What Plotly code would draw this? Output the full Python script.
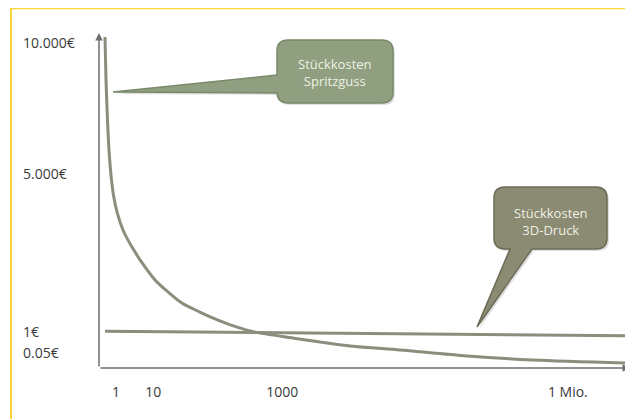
import plotly.graph_objects as go

# ---------------- data (abstract sketch units: x 0..100, y 0..100) ----------------
spritzguss_x = [1.13, 1.32, 1.60, 1.88, 2.26, 2.73, 3.39, 4.52, 6.21, 8.29, 10.55,
                13.0, 15.6, 19.0, 22.4, 26.0, 29.4, 36.3, 47.3, 56.7, 69.3, 81.7, 99.6]
spritzguss_y = [98.8, 86.0, 74.0, 65.1, 57.6, 51.6, 46.6, 41.2, 36.1, 31.0, 26.3,
                22.7, 19.4, 16.7, 14.3, 12.2, 10.7, 9.0, 6.6, 5.4, 3.6, 2.4, 1.5]
druck_x = [1.13, 37.9, 99.6]
druck_y = [11.0, 10.4, 9.6]

xtick_vals = [3.2, 10.2, 34.5, 88.3]
xtick_text = ["1", "10", "1000", "1 Mio."]
ytick_vals = [97.3, 58.2, 11.0, 4.5]
ytick_text = ["10.000€", "5.000€", "1€", "0.05€"]

callout_text = ["Stückkosten<br>Spritzguss", "Stückkosten<br>3D-Druck"]

# ---------------- layout geometry (screen pixels; page body adds 8px offset) ----------------
OFF = 8
SW, SH = 633, 419
PL, PR, PT, PB = 99, 630, 33, 368          # plot area in screen px
W, H = SW - OFF, SH - OFF


def X(px):
    return (px - PL) / (PR - PL) * 100


def Y(py):
    return (PB - py) / (PB - PT) * 100


def PX(px):
    return (px - PL) / (PR - PL)


def PY(py):
    return (PB - py) / (PB - PT)


def bubble(x0, x1, y0, y1, r, tail_side, a, b, tip, d=0):
    def p(px, py):
        return f"{X(px + d):.3f},{Y(py + d):.3f}"
    s = f"M {p(x0 + r, y0)} L {p(x1 - r, y0)} Q {p(x1, y0)} {p(x1, y0 + r)} "
    s += f"L {p(x1, y1 - r)} Q {p(x1, y1)} {p(x1 - r, y1)} "
    if tail_side == "bottom":
        s += f"L {p(a, y1)} L {p(*tip)} L {p(b, y1)} "
    s += f"L {p(x0 + r, y1)} Q {p(x0, y1)} {p(x0, y1 - r)} "
    if tail_side == "left":
        s += f"L {p(x0, b)} L {p(*tip)} L {p(x0, a)} "
    s += f"L {p(x0, y0 + r)} Q {p(x0, y0)} {p(x0 + r, y0)} Z"
    return s


line_col = "#8b8e7c"
fig = go.Figure()
fig.add_trace(go.Scatter(x=spritzguss_x, y=spritzguss_y, mode="lines",
                         line=dict(color=line_col, width=3, shape="spline", smoothing=0.8),
                         hoverinfo="skip", showlegend=False))
fig.add_trace(go.Scatter(x=druck_x, y=druck_y, mode="lines",
                         line=dict(color=line_col, width=3),
                         hoverinfo="skip", showlegend=False))

shapes = []
# yellow frame (top + left)
shapes.append(dict(type="line", xref="paper", yref="paper", x0=PX(11), x1=PX(SW + 5),
                   y0=PY(8), y1=PY(8), line=dict(color="#fdd436", width=2.5)))
shapes.append(dict(type="line", xref="paper", yref="paper", x0=PX(11), x1=PX(11),
                   y0=PY(8), y1=PY(SH + 5), line=dict(color="#fdd436", width=2)))

# callout bubbles (soft shadow + body)
geo1 = (277, 393, 40, 103, 11, "left", 75, 93, (113, 92))
geo2 = (494, 607, 187, 249, 11, "bottom", 532, 510, (477, 327))
for geo, fill, edge in [(geo1, "#8f9f80", "#7a8a6b"), (geo2, "#8b8a72", "#6c6b56")]:
    shapes.append(dict(type="path", xref="x", yref="y", path=bubble(*geo, d=2),
                       fillcolor="rgba(0,0,0,0.13)", line=dict(width=0), layer="above"))
    shapes.append(dict(type="path", xref="x", yref="y", path=bubble(*geo),
                       fillcolor=fill, line=dict(color=edge, width=1.5), layer="above"))

annotations = []
# axes with arrows
annotations.append(dict(x=0, y=100, ax=0, ay=0, xref="x", yref="y", axref="x", ayref="y",
                        showarrow=True, arrowhead=2, arrowsize=1, arrowwidth=1.5,
                        arrowcolor="#6e6e6e", text=""))
annotations.append(dict(x=100, y=0, ax=0, ay=0, xref="x", yref="y", axref="x", ayref="y",
                        showarrow=True, arrowhead=2, arrowsize=1, arrowwidth=1.5,
                        arrowcolor="#6e6e6e", text=""))
# y tick labels (left aligned)
for v, t in zip(ytick_vals, ytick_text):
    annotations.append(dict(x=PX(21), y=v, xref="paper", yref="y", text=t, showarrow=False,
                            xanchor="left", yanchor="middle",
                            font=dict(family="Open Sans", size=14, color="#3a3a3a")))
# callout texts
for (cx, cy), t in zip([(335, 72), (551, 221)], callout_text):
    annotations.append(dict(x=X(cx), y=Y(cy), xref="x", yref="y", text=t, showarrow=False,
                            font=dict(family="Open Sans", size=13, color="#eef0e4"),
                            align="center"))

fig.update_layout(
    width=W, height=H,
    margin=dict(l=PL - OFF, r=W - (PR - OFF), t=PT - OFF, b=H - (PB - OFF)),
    paper_bgcolor="white", plot_bgcolor="white",
    shapes=shapes, annotations=annotations,
    xaxis=dict(range=[0, 100], showgrid=False, zeroline=False, showline=False,
               tickmode="array", tickvals=xtick_vals, ticktext=xtick_text,
               ticks="outside", ticklen=11, tickcolor="rgba(0,0,0,0)",
               tickfont=dict(family="Open Sans", size=14, color="#3a3a3a"), fixedrange=True),
    yaxis=dict(range=[0, 100], showgrid=False, zeroline=False, showline=False,
               showticklabels=False, ticks="", fixedrange=True),
)

fig.write_html("out.html")
